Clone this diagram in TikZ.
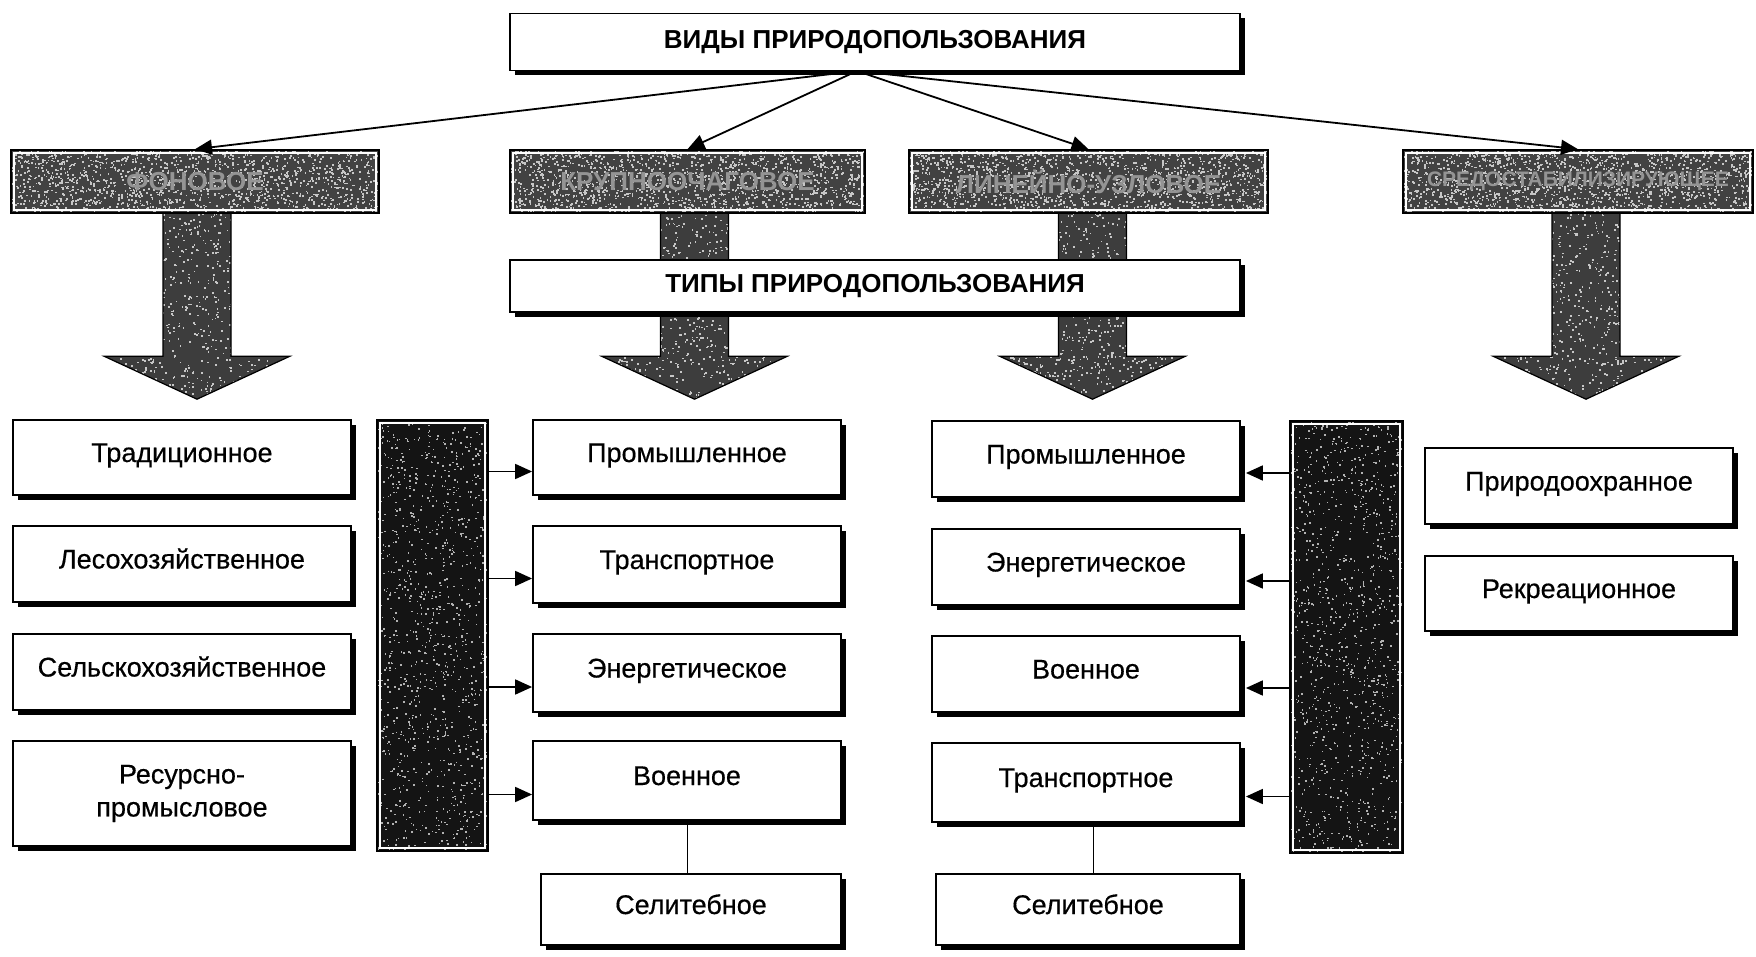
\documentclass[tikz,border=0pt]{standalone}
\usepackage{fontspec}
\setmainfont{Liberation Sans}
\newfontfamily\boxfontfam[FakeBold=0.5]{Liberation Sans}
\usetikzlibrary{calc,shadows,arrows.meta}

% random light specks scattered over the current path (used inside path picture)
\newcommand\grainfill[3]{%
  \pgfpointanchor{path picture bounding box}{south west}\pgfgetlastxy\grXa\grYa
  \pgfpointanchor{path picture bounding box}{north east}\pgfgetlastxy\grXb\grYb
  \pgfsetfillcolor{#2}%
  \foreach \k in {1,...,#1}{%
    \pgfmathsetmacro\grX{\grXa+rnd*(\grXb-\grXa)}%
    \pgfmathsetmacro\grY{\grYa+rnd*(\grYb-\grYa)}%
    \pgfpathrectangle{\pgfpoint{\grX pt}{\grY pt}}{\pgfpoint{#3}{#3}}%
    \pgfusepath{fill}}}
% thin white frame just inside a dark block
\newcommand\insetline{%
  \draw[white,line width=1.2pt]
    ($(path picture bounding box.south west)+(3pt,3pt)$) rectangle
    ($(path picture bounding box.north east)+(-3pt,-3pt)$);}

\begin{document}
\pgfmathsetseed{17}
\begin{tikzpicture}[x=1pt,y=-1pt,
  tbox/.style={draw=black,line width=1.8pt,fill=white,
    drop shadow={shadow xshift=5pt,shadow yshift=-5pt,fill=black,opacity=1},
    font=\boxfontfam\fontsize{27}{31}\selectfont,align=center,inner sep=0pt},
  one/.style={text height=20pt,text depth=11pt},
  title/.style={tbox,font=\bfseries\fontsize{26}{30}\selectfont},
  hdr/.style={draw=black,line width=1.6pt,fill=black!74,text=black!42,
    font=\bfseries\fontsize{26}{30}\selectfont,inner sep=0pt,
    path picture={\grainfill{1500}{black!22}{1.7pt}\insetline}},
  bar/.style={draw=black,line width=1.6pt,fill=black!92,
    path picture={\grainfill{1100}{black!30}{1.5pt}\insetline}},
  tarrow/.style={draw=black,line width=1.2pt,fill=black!76,
    path picture={\grainfill{900}{black!22}{1.7pt}}},
  link/.style={line width=1.8pt,-{Triangle[length=17pt,width=15pt]}},
  stub/.style={line width=1pt}]

\useasboundingbox (0,0) rectangle (1756,957);
\fill[white] (0,0) rectangle (1756,957);

% placement of the four kind headers
\path (195,181.5) node[minimum width=368,minimum height=63] (h1) {}
      (687.5,181.5) node[minimum width=355,minimum height=63] (h2) {}
      (1088.5,181.5) node[minimum width=359,minimum height=63] (h3) {}
      (1578,181.5) node[minimum width=350,minimum height=63] (h4) {};

% broad downward arrows below the headers
\foreach \h/\dx in {h1/2,h2/7,h3/4,h4/8}{
  \path[tarrow]
    ($(\h.south)+(\dx-34,-4)$) -- ($(\h.south)+(\dx-34,143)$)
    -- ($(\h.south)+(\dx-93,143)$) -- ($(\h.south)+(\dx,186)$)
    -- ($(\h.south)+(\dx+93,143)$) -- ($(\h.south)+(\dx+34,143)$)
    -- ($(\h.south)+(\dx+34,-4)$) -- cycle;
}

\node[hdr,minimum width=368,minimum height=63] (k1) at (h1) {ФОНОВОЕ};
\node[hdr,minimum width=355,minimum height=63] (k2) at (h2) {КРУПНООЧАГОВОЕ};
\node[hdr,minimum width=359,minimum height=63] (k3) at (h3) {ЛИНЕЙНО-УЗЛОВОЕ};
\node[hdr,minimum width=350,minimum height=63,
      font=\bfseries\fontsize{21}{25}\selectfont] (k4) at (h4) {СРЕДОСТАБИЛИЗИРУЮЩЕЕ};

% titles
\node[title,minimum width=730,minimum height=57] (vid) at (875,42) {ВИДЫ ПРИРОДОПОЛЬЗОВАНИЯ};
\node[title,minimum width=730,minimum height=52] (typ) at (875,286) {ТИПЫ ПРИРОДОПОЛЬЗОВАНИЯ};

\coordinate (hub) at (857,71);
\foreach \k in {k1,k2,k3,k4}
  \draw[link] (hub) -- (\k.north);

% first column
\node[tbox,one,minimum width=338,minimum height=75] (a1) at (182,457.5) {Традиционное};
\node[tbox,one,minimum width=338,minimum height=76] (a2) at (182,564) {Лесохозяйственное};
\node[tbox,one,minimum width=338,minimum height=76] (a3) at (182,672) {Сельскохозяйственное};
\node[tbox,minimum width=338,minimum height=105] (a4) at (182,793.5) {Ресурсно-\\[2pt]промысловое};

% dark bars
\node[bar,minimum width=111,minimum height=431] (bar1) at (432.5,635.5) {};
\node[bar,minimum width=113,minimum height=432] (bar2) at (1346.5,637) {};

% second column
\node[tbox,one,minimum width=308,minimum height=75] (b1) at (687,457.5) {Промышленное};
\node[tbox,one,minimum width=308,minimum height=77] (b2) at (687,564.5) {Транспортное};
\node[tbox,one,minimum width=308,minimum height=78] (b3) at (687,673) {Энергетическое};
\node[tbox,one,minimum width=308,minimum height=79] (b4) at (687,780.5) {Военное};
\node[tbox,one,minimum width=300,minimum height=71] (b5) at (691,909.5) {Селитебное};

% third column
\node[tbox,one,minimum width=308,minimum height=76] (c1) at (1086,459) {Промышленное};
\node[tbox,one,minimum width=308,minimum height=76] (c2) at (1086,567) {Энергетическое};
\node[tbox,one,minimum width=308,minimum height=76] (c3) at (1086,674) {Военное};
\node[tbox,one,minimum width=308,minimum height=79] (c4) at (1086,782.5) {Транспортное};
\node[tbox,one,minimum width=304,minimum height=71] (c5) at (1088,909.5) {Селитебное};

% fourth column
\node[tbox,one,minimum width=308,minimum height=76] (d1) at (1579,486) {Природоохранное};
\node[tbox,one,minimum width=308,minimum height=75] (d2) at (1579,593.5) {Рекреационное};

% links from the bars
\foreach \b in {b1,b2,b3,b4}{
  \coordinate (\b in) at ($(\b.west)+(0,14)$);
  \draw[link] (bar1.east |- \b in) -- (\b in);
}
\foreach \c in {c1,c2,c3,c4}{
  \coordinate (\c in) at ($(\c.east)+(5,14)$);
  \draw[link] (bar2.west |- \c in) -- (\c in);
}

\draw[stub] (b4.south) -- (b4.south |- b5.north);
\draw[stub] ($(c4.south)+(7,0)$) -- ($(c4.south |- c5.north)+(7,0)$);
\end{tikzpicture}
\end{document}
